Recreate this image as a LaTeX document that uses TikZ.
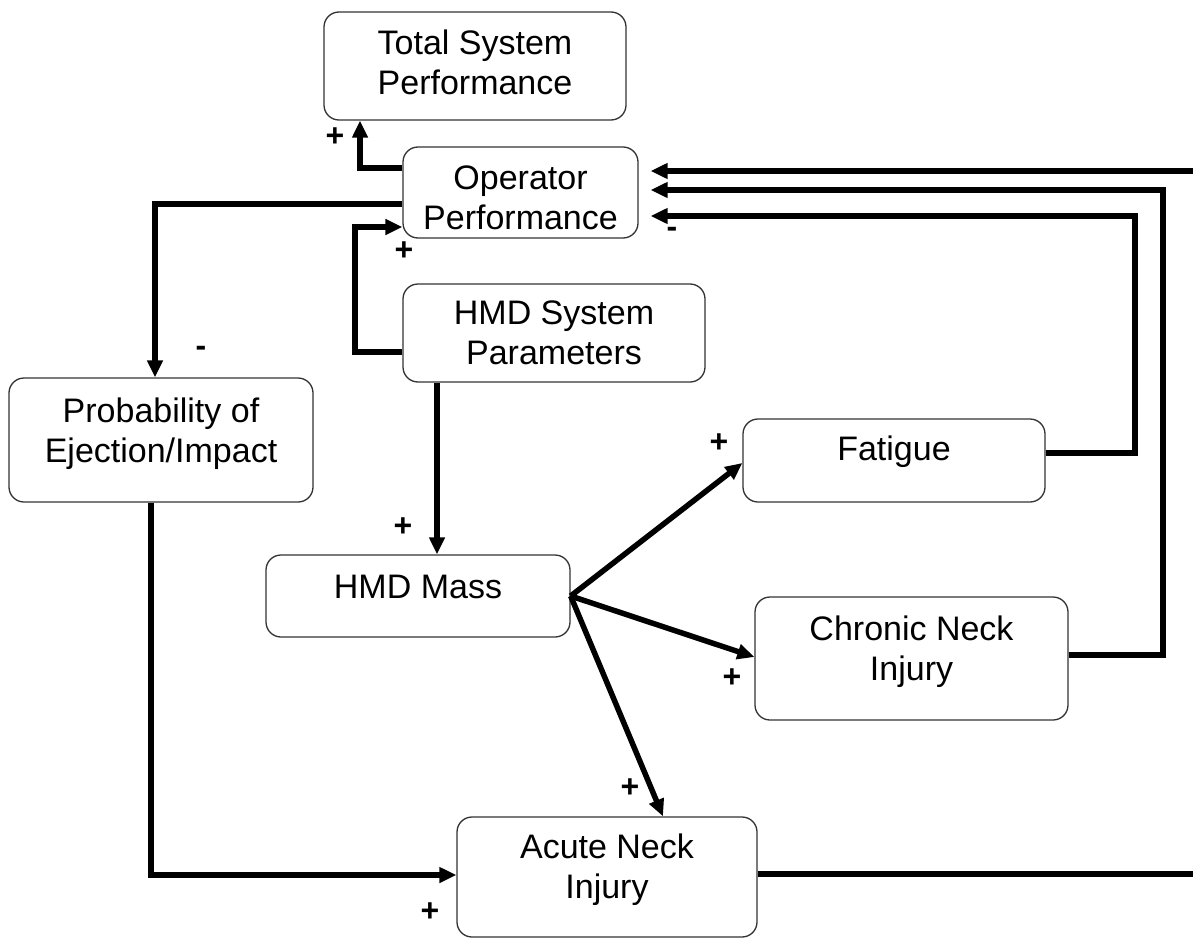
\documentclass[tikz,border=0pt]{standalone}
\usepackage{fontspec}
\setmainfont{Liberation Sans}
\usetikzlibrary{arrows.meta}
\begin{document}
\begin{tikzpicture}[x=1pt,y=-1pt,
  box/.style={draw=black!80, line width=1.3pt, rounded corners=15pt, inner sep=0pt, fill=white},
  txt/.style={font=\fontsize{34}{40}\selectfont, align=center, inner sep=0pt},
  sign/.style={font=\fontsize{32}{32}\selectfont\bfseries, inner sep=0pt},
  conn/.style={line width=5.5pt, -{Triangle[length=17pt,width=15pt]}}
]
\useasboundingbox (0,0) rectangle (1193,939);
\clip (0,0) rectangle (1193,939);

% boxes
\node[box, minimum width=302pt, minimum height=108pt, label={[txt, yshift=4pt]center:Total System\\Performance}] (tsp) at (475,66) {};
\node[box, minimum width=235pt, minimum height=91pt, label={[txt, yshift=-5pt]center:Operator\\Performance}] (op) at (520.5,192.5) {};
\node[box, minimum width=302pt, minimum height=98pt, label={[txt, yshift=0pt]center:HMD System\\Parameters}] (hsp) at (554,333) {};
\node[box, minimum width=304pt, minimum height=124pt, label={[txt, yshift=6.5pt]center:Probability of\\Ejection/Impact}] (pei) at (161,440) {};
\node[box, minimum width=302pt, minimum height=83pt, label={[txt, yshift=8.5pt]center:Fatigue}] (fat) at (894,460.5) {};
\node[box, minimum width=304pt, minimum height=82pt, label={[txt, yshift=9pt]center:HMD Mass}] (mass) at (418,596) {};
\node[box, minimum width=313pt, minimum height=123pt, label={[txt, yshift=7pt]center:Chronic Neck\\Injury}] (chr) at (911.5,658.5) {};
\node[box, minimum width=300pt, minimum height=120pt, label={[txt, yshift=7.5pt]center:Acute Neck\\Injury}] (acu) at (607,877) {};

% bend coordinates
\coordinate (k1) at (360,168);
\coordinate (k2) at (155,204);
\coordinate (k3a) at (355,352);
\coordinate (k3b) at (355,227);
\coordinate (k4) at (437,0);
\coordinate (k5) at (0,463);
\coordinate (k6) at (0,657);
\coordinate (k7) at (663,0);
\coordinate (k8a) at (1135,453);
\coordinate (k8b) at (1135,216);
\coordinate (k9a) at (1163,655);
\coordinate (k9b) at (1163,190);
\coordinate (k10a) at (1206,874);
\coordinate (k10b) at (1206,171);
\coordinate (k11) at (151,875);

% connectors
\draw[conn] (op.west |- k1) -| (tsp.south -| k1);
\draw[conn] (op.west |- k2) -| (pei.north -| k2);
\draw[conn] (hsp.west |- k3a) -- (k3a) -- (k3b) -- (op.west |- k3b);
\draw[conn] (hsp.south -| k4) -- (mass.north -| k4);
\draw[conn] (mass.east) -- (fat.west |- k5);
\draw[conn] (mass.east) -- (chr.west |- k6);
\draw[conn] (mass.east) -- (acu.north -| k7);
\draw[conn, shorten >=12pt] (fat.east |- k8a) -- (k8a) -- (k8b) -- (op.east |- k8b);
\draw[conn, shorten >=12pt] (chr.east |- k9a) -- (k9a) -- (k9b) -- (op.east |- k9b);
\draw[conn, shorten >=12pt] (acu.east |- k10a) -- (k10a) -- (k10b) -- (op.east |- k10b);
\draw[conn] (pei.south -| k11) |- (acu.west |- k11);

% polarity signs
\node[sign] (s1) at (335,137) {+};
\node[sign] (s2) at (404,251) {+};
\node[sign] (s3) at (201,351) {-};
\node[sign] (s4) at (403,527) {+};
\node[sign] (s5) at (719,443) {+};
\node[sign] (s6) at (732,678) {+};
\node[sign] (s7) at (630,788) {+};
\node[sign] (s8) at (430,912) {+};
\node[sign] (s9) at (672,232) {-};
\end{tikzpicture}
\end{document}
